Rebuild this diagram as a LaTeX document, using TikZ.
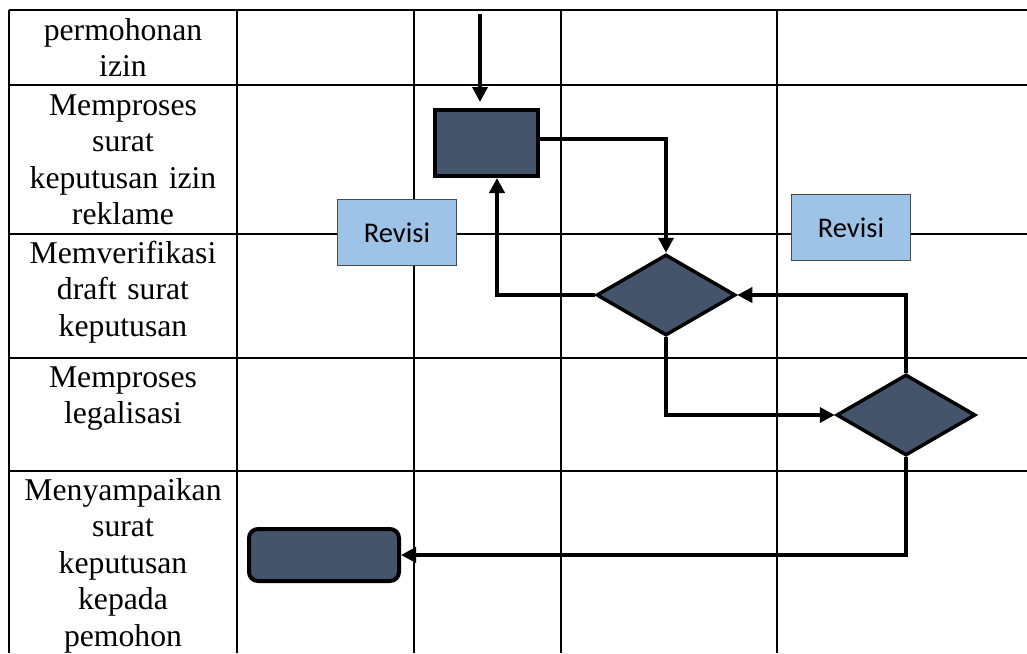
\documentclass[tikz,border=0pt]{standalone}
\usepackage{fontspec}
\setmainfont{Liberation Serif}
\newfontfamily\labelfont{Carlito}
\usetikzlibrary{shapes.geometric,arrows.meta,calc}
\definecolor{boxdark}{HTML}{44546A}
\definecolor{revblue}{HTML}{9DC3E6}
\definecolor{revedge}{HTML}{4A4A4A}

\begin{document}
\begin{tikzpicture}[x=1pt,y=-1pt,
  gridline/.style={line width=2pt},
  lanetext/.style={anchor=base, text width=224pt, align=center, inner sep=0pt,
    font=\fontsize{31.7}{36.5}\selectfont},
  procbox/.style={draw, line width=4pt, fill=boxdark, minimum width=103pt,
    minimum height=66pt, inner sep=0pt},
  endbox/.style={draw, line width=4pt, fill=boxdark, rounded corners=9pt,
    minimum width=150pt, minimum height=52pt, inner sep=0pt},
  decision/.style={diamond, draw, line width=3.5pt, fill=boxdark,
    minimum width=139pt, minimum height=81pt, inner sep=0pt},
  revbox/.style={draw=revedge, line width=1pt, fill=revblue, minimum width=119pt,
    minimum height=66pt, inner sep=0pt, font=\labelfont\fontsize{28.5}{31}\selectfont},
  conn/.style={line width=3.5pt, -{Triangle[length=15pt,width=15pt]}},
]
\useasboundingbox (0,0) rectangle (1027,653);

% table grid
\foreach \yy in {10,85,234,358,471}
  \draw[gridline] (9,\yy) -- (1027,\yy);
\foreach \xx in {9,237,414,561,777}
  \draw[gridline] (\xx,10) -- (\xx,653);

% lane captions
\node[lanetext] (l1) at (123,40) {permohonan\\izin};
\node[lanetext] (l2) at (123,115) {Memproses\\surat\\keputusan izin\\reklame};
\node[lanetext] (l3) at (123,263) {Memverifikasi\\draft surat\\keputusan};
\node[lanetext] (l4) at (123,387) {Memproses\\legalisasi};
\node[lanetext] (l5) at (123,500) {Menyampaikan\\surat\\keputusan\\kepada\\pemohon};

% revision labels
\node[revbox] (rev1) at (397,232.5) {Revisi};
\node[revbox] (rev2) at (851,227.5) {Revisi};

% flow shapes
\node[procbox] (proc) at (486.5,143) {};
\node[decision] (d1) at (666,295) {};
\node[decision] (d2) at (906,415) {};
\node[endbox] (done) at (324,555) {};

% connectors
\coordinate (start) at (480,14);
\draw[conn, shorten >=6pt] (start) -- (start |- proc.north);
\draw[conn] ([yshift=4pt]proc.east) -| (d1.north);
\draw[conn, line width=4.5pt] (d1.west) -| ([xshift=10.5pt]proc.south);
\draw[conn] (d2.north) |- (d1.east);
\draw[conn] (d1.south) |- (d2.west);
\draw[conn] (d2.south) |- (done.east);
\end{tikzpicture}
\end{document}
